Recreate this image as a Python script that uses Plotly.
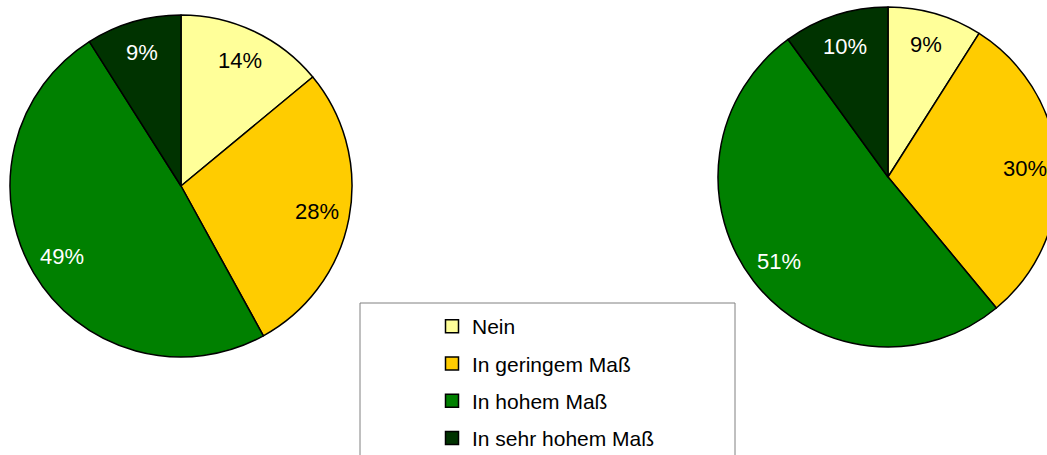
import math
import plotly.graph_objects as go

categories = ["Nein", "In geringem Maß", "In hohem Maß", "In sehr hohem Maß"]
values_left = [14, 28, 49, 9]
values_right = [9, 30, 51, 10]
colors = ["#FFFF99", "#FFCC00", "#008000", "#003300"]
label_colors = ["black", "black", "white", "white"]

W, H = 1080, 470
FONT = "Liberation Sans Narrow, Arial Narrow, Liberation Sans, Arial, sans-serif"

# pie placement in pixels: (cx, cy, r)
pies = [(181, 186, 171, values_left), (888, 177, 170, values_right)]

fig = go.Figure()
annotations = []
for cx, cy, r, vals in pies:
    fig.add_trace(go.Pie(
        labels=categories, values=vals, sort=False, direction="clockwise",
        rotation=0, textinfo="none", showlegend=False, hoverinfo="label+percent",
        marker=dict(colors=colors, line=dict(color="black", width=1.5)),
        domain=dict(x=[(cx - r) / W, (cx + r) / W], y=[1 - (cy + r) / H, 1 - (cy - r) / H]),
    ))
    total = sum(vals)
    cum = 0
    for v, tc in zip(vals, label_colors):
        mid = (cum + v / 2) / total * 2 * math.pi
        cum += v
        px = cx + 0.81 * r * math.sin(mid)
        py = cy - 0.81 * r * math.cos(mid)
        annotations.append(dict(
            x=px / W, y=1 - py / H, xref="paper", yref="paper",
            text=f"{round(v / total * 100)}%", showarrow=False,
            font=dict(family=FONT, size=22, color=tc),
            xanchor="center", yanchor="middle",
        ))

for i, (cat, col) in enumerate(zip(categories, colors)):
    fig.add_trace(go.Scatter(
        x=[None], y=[None], mode="markers", name=cat, legendgroup=f"g{i}",
        marker=dict(symbol="square", size=13, color=col, line=dict(color="black", width=1.5)),
    ))

fig.update_layout(
    width=W, height=H, margin=dict(l=0, r=0, t=0, b=0),
    paper_bgcolor="white", plot_bgcolor="white",
    xaxis=dict(visible=False), yaxis=dict(visible=False),
    annotations=annotations,
    showlegend=True,
    legend=dict(
        x=432 / W, y=1 - 306 / H, xanchor="left", yanchor="top",
        bgcolor="rgba(0,0,0,0)", borderwidth=0,
        font=dict(family=FONT, size=21, color="black"),
        tracegroupgap=7, itemsizing="trace",
    ),
    shapes=[dict(type="rect", xref="paper", yref="paper",
                 x0=360 / W, x1=735 / W, y0=1 - 490 / H, y1=1 - 303 / H,
                 line=dict(color="#808080", width=1), fillcolor="rgba(0,0,0,0)", layer="below")],
)

fig.write_html(
    "out.html",
    config={"displayModeBar": False},
    post_script="document.body.style.margin='0';document.body.style.overflow='hidden';"
                "document.documentElement.style.overflow='hidden';",
)
